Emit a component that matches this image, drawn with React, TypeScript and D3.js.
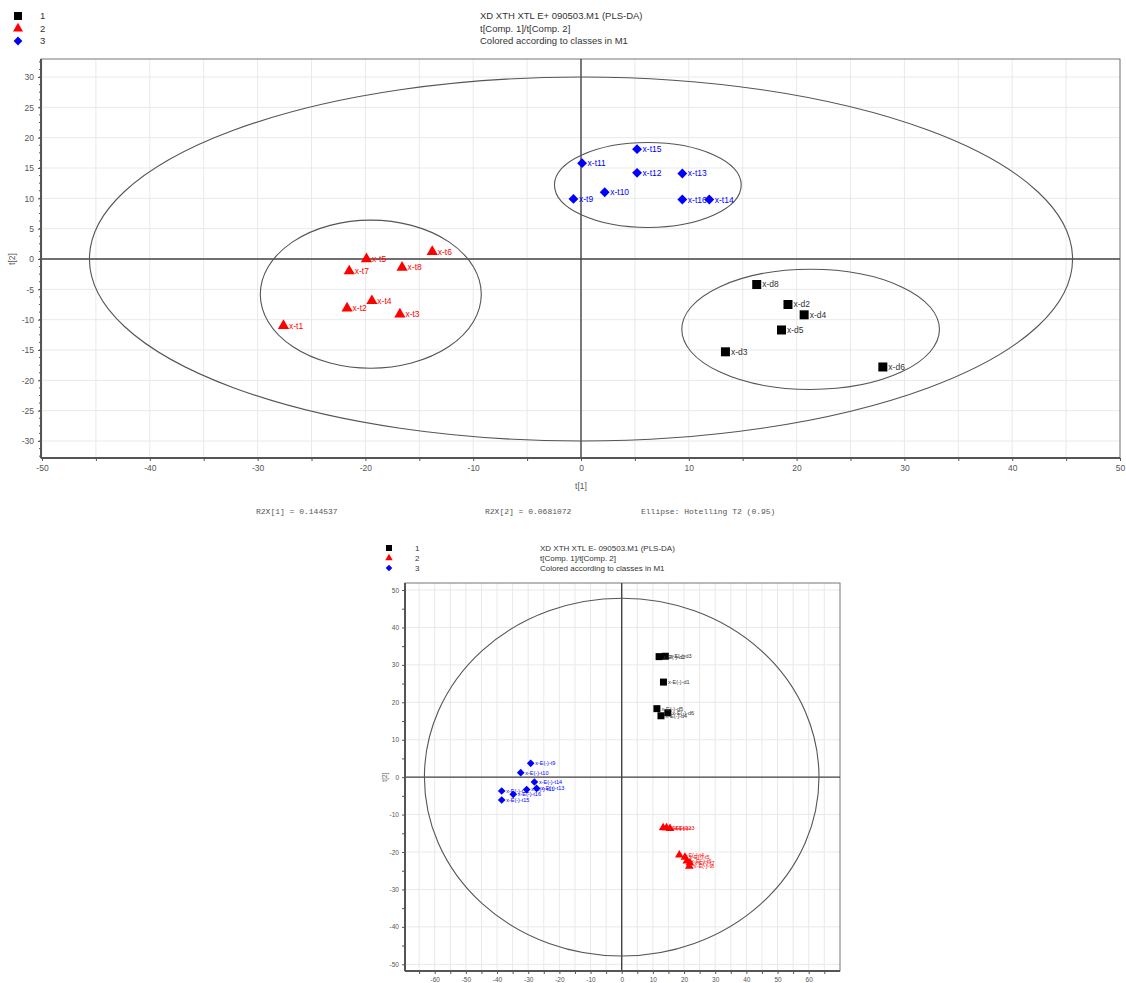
import React, { useEffect, useRef } from 'react';
import * as d3 from 'd3';

// ---- top panel: XD XTH XTL E+ (t[1] vs t[2]) ----
const topTitle = ['XD XTH XTL E+ 090503.M1 (PLS-DA)', 't[Comp. 1]/t[Comp. 2]', 'Colored according to classes in M1'];
const topClass1 = [
  { name: 'x-d8', x: 16.3, y: -4.2 },
  { name: 'x-d2', x: 19.2, y: -7.5 },
  { name: 'x-d4', x: 20.7, y: -9.2 },
  { name: 'x-d5', x: 18.6, y: -11.7 },
  { name: 'x-d3', x: 13.4, y: -15.3 },
  { name: 'x-d6', x: 28.0, y: -17.8 },
];
const topClass2 = [
  { name: 'x-t1', x: -27.6, y: -11.0 },
  { name: 'x-t2', x: -21.7, y: -8.1 },
  { name: 'x-t4', x: -19.4, y: -6.9 },
  { name: 'x-t3', x: -16.8, y: -9.1 },
  { name: 'x-t7', x: -21.5, y: -2.0 },
  { name: 'x-t5', x: -19.9, y: 0.0 },
  { name: 'x-t8', x: -16.6, y: -1.4 },
  { name: 'x-t6', x: -13.8, y: 1.2 },
];
const topClass3 = [
  { name: 'x-t15', x: 5.2, y: 18.1 },
  { name: 'x-t11', x: 0.1, y: 15.8 },
  { name: 'x-t12', x: 5.2, y: 14.2 },
  { name: 'x-t13', x: 9.4, y: 14.1 },
  { name: 'x-t10', x: 2.2, y: 11.0 },
  { name: 'x-t9', x: -0.7, y: 9.9 },
  { name: 'x-t16', x: 9.4, y: 9.8 },
  { name: 'x-t14', x: 11.9, y: 9.8 },
];
const topEllipses = [
  { cx: 0, cy: 0, rx: 45.6, ry: 30 },
  { cx: -19.5, cy: -5.8, rx: 10.25, ry: 12.2 },
  { cx: 6.2, cy: 12.2, rx: 8.66, ry: 7.0 },
  { cx: 21.3, cy: -11.6, rx: 11.95, ry: 9.9 },
];
const topXTicks = d3.range(-50, 51, 5);
const topYTicks = d3.range(-30, 31, 5);
const topYMinor = d3.range(-32.5, 33, 1.25);
const r2xText = ['R2X[1] = 0.144537', 'R2X[2] = 0.0681072', 'Ellipse: Hotelling T2 (0.95)'];

// ---- bottom panel: XD XTH XTL E- ----
const botTitle = ['XD XTH XTL E- 090503.M1 (PLS-DA)', 't[Comp. 1]/t[Comp. 2]', 'Colored according to classes in M1'];
const botClass1 = [
  { name: 'x-E(-)-d2', x: 12.0, y: 32.2 },
  { name: 'x-E(-)-d3', x: 14.0, y: 32.3 },
  { name: 'x-E(-)-d1', x: 13.4, y: 25.4 },
  { name: 'x-E(-)-d5', x: 11.3, y: 18.3 },
  { name: 'x-E(-)-d4', x: 12.6, y: 16.4 },
  { name: 'x-E(-)-d6', x: 14.8, y: 17.2 },
];
const botClass2 = [
  { name: 'x-E(-)-t1', x: 13.3, y: -13.5 },
  { name: 'x-E(-)-t2', x: 14.4, y: -13.5 },
  { name: 'x-E(-)-t3', x: 15.5, y: -13.7 },
  { name: 'x-E(-)-t4', x: 18.5, y: -20.8 },
  { name: 'x-E(-)-t5', x: 20.3, y: -21.4 },
  { name: 'x-E(-)-t6', x: 20.9, y: -22.4 },
  { name: 'x-E(-)-t7', x: 21.9, y: -22.9 },
  { name: 'x-E(-)-t8', x: 21.7, y: -23.8 },
];
const botClass3 = [
  { name: 'x-E(-)-t9', x: -29.2, y: 3.7 },
  { name: 'x-E(-)-t10', x: -32.4, y: 1.2 },
  { name: 'x-E(-)-t14', x: -28.0, y: -1.3 },
  { name: 'x-E(-)-t13', x: -27.3, y: -3.0 },
  { name: 'x-E(-)-t11', x: -30.5, y: -3.3 },
  { name: 'x-E(-)-t16', x: -34.8, y: -4.6 },
  { name: 'x-E(-)-t12', x: -38.5, y: -3.7 },
  { name: 'x-E(-)-t15', x: -38.5, y: -6.1 },
];
const botEllipses = [{ cx: 0, cy: 0, rx: 63.3, ry: 47.8 }];
const botXTicks = d3.range(-65, 66, 5);
const botYTicks = d3.range(-50, 51, 5);

const classColors = ['#000000', '#ff0000', '#0000ff'];
const classLabels = ['1', '2', '3'];
const FONT = 'Liberation Sans, Arial, sans-serif';

const markerPath = (cls, s) => {
  if (cls === 0) return d3.symbol(d3.symbolSquare, s * s)();
  if (cls === 1) return d3.symbol(d3.symbolTriangle, (s * s * Math.sqrt(3)) / 4 * 1.55)();
  return d3.symbol(d3.symbolSquare, s * s * 0.6)(); // rotated later -> diamond
};

function drawPanel(svg, cfg) {
  const { box, xDomain, xRange, yDomain, yRange } = cfg;
  const x = d3.scaleLinear().domain(xDomain).range(xRange);
  const y = d3.scaleLinear().domain(yDomain).range(yRange);
  const g = svg.append('g');

  // grid
  g.append('g').selectAll('line').data(cfg.xGrid).join('line')
    .attr('x1', d => x(d)).attr('x2', d => x(d))
    .attr('y1', box.top).attr('y2', box.bottom)
    .attr('stroke', '#e9e9e9');
  g.append('g').selectAll('line').data(cfg.yGrid).join('line')
    .attr('y1', d => y(d)).attr('y2', d => y(d))
    .attr('x1', box.left).attr('x2', box.right)
    .attr('stroke', '#e9e9e9');

  // frame
  g.append('rect')
    .attr('x', box.left).attr('y', box.top)
    .attr('width', box.right - box.left).attr('height', box.bottom - box.top)
    .attr('fill', 'none').attr('stroke', '#777').attr('stroke-width', 1);

  // zero lines
  g.append('line').attr('x1', box.left).attr('x2', box.right)
    .attr('y1', y(0)).attr('y2', y(0)).attr('stroke', '#444').attr('stroke-width', 1.4);
  g.append('line').attr('x1', x(0)).attr('x2', x(0))
    .attr('y1', box.top).attr('y2', box.bottom).attr('stroke', '#444').attr('stroke-width', 1.4);

  // axes
  const fmt = d => (Math.abs(d % cfg.xLabelStep) < 1e-9 ? String(d) : '');
  const xAxis = g.append('g')
    .attr('transform', `translate(0,${box.bottom})`)
    .call(d3.axisBottom(x).tickValues(cfg.xTicks).tickSize(3).tickPadding(cfg.tickPad).tickFormat(fmt));
  xAxis.select('.domain').attr('d', `M${box.left},0H${box.right}`).attr('stroke', '#555').attr('stroke-width', 2);
  xAxis.selectAll('line').attr('stroke', '#555');
  xAxis.selectAll('text').attr('fill', '#555').attr('font-size', cfg.tickSize).attr('font-family', FONT);

  const yfmt = d => (Math.abs(d % cfg.yLabelStep) < 1e-9 ? String(d) : '');
  const yAxis = g.append('g')
    .attr('transform', `translate(${box.left},0)`)
    .call(d3.axisLeft(y).tickValues(cfg.yTicks).tickSize(3).tickPadding(cfg.tickPad).tickFormat(yfmt));
  yAxis.select('.domain').attr('d', `M0,${box.top}V${box.bottom}`).attr('stroke', '#555').attr('stroke-width', 2);
  yAxis.selectAll('line').attr('stroke', '#555');
  yAxis.selectAll('text').attr('fill', '#555').attr('font-size', cfg.tickSize).attr('font-family', FONT);

  if (cfg.yMinor) {
    g.append('g').selectAll('line').data(cfg.yMinor).join('line')
      .attr('x1', box.left - 2).attr('x2', box.left)
      .attr('y1', d => y(d)).attr('y2', d => y(d))
      .attr('stroke', '#555');
  }

  // axis titles
  g.append('text')
    .attr('transform', `translate(${cfg.yTitlePos[0]},${y(0)}) rotate(-90)`)
    .attr('text-anchor', 'middle').attr('font-size', cfg.tickSize).attr('fill', '#555')
    .attr('font-family', FONT).text('t[2]');
  if (cfg.xTitleY) {
    g.append('text').attr('x', x(0)).attr('y', cfg.xTitleY)
      .attr('text-anchor', 'middle').attr('font-size', cfg.tickSize).attr('fill', '#555')
      .attr('font-family', FONT).text('t[1]');
  }

  // ellipses
  g.append('g').selectAll('ellipse').data(cfg.ellipses).join('ellipse')
    .attr('cx', d => x(d.cx)).attr('cy', d => y(d.cy))
    .attr('rx', d => x(d.rx) - x(0)).attr('ry', d => y(0) - y(d.ry))
    .attr('fill', 'none').attr('stroke', '#555').attr('stroke-width', 1.1);

  // points
  cfg.classes.forEach((pts, ci) => {
    const pg = g.append('g');
    pg.selectAll('path').data(pts).join('path')
      .attr('d', markerPath(ci, cfg.markerSize))
      .attr('transform', d => `translate(${x(d.x)},${y(d.y)})${ci === 2 ? ' rotate(45)' : ''}`)
      .attr('fill', classColors[ci]);
    pg.selectAll('text').data(pts).join('text')
      .attr('x', d => x(d.x) + cfg.markerSize / 2 + 1)
      .attr('y', d => y(d.y) + cfg.labelSize * 0.35)
      .attr('font-size', cfg.labelSize).attr('font-family', FONT)
      .attr('fill', ci === 0 ? '#333' : classColors[ci])
      .text(d => d.name);
  });

  // legend + title block
  const lg = svg.append('g');
  classLabels.forEach((lab, ci) => {
    const ly = cfg.legend.y + ci * cfg.legend.gap;
    lg.append('path')
      .attr('d', markerPath(ci, cfg.legend.size))
      .attr('transform', `translate(${cfg.legend.x},${ly})${ci === 2 ? ' rotate(45)' : ''}`)
      .attr('fill', classColors[ci]);
    lg.append('text').attr('x', cfg.legend.labelX).attr('y', ly + cfg.legend.font * 0.35)
      .attr('font-size', cfg.legend.font).attr('font-family', FONT).attr('fill', '#333').text(lab);
    lg.append('text').attr('x', cfg.legend.titleX).attr('y', ly + cfg.legend.font * 0.35)
      .attr('font-size', cfg.legend.font).attr('font-family', FONT).attr('fill', '#333').text(cfg.title[ci]);
  });
}

const App = () => {
  const svgRef = useRef(null);

  useEffect(() => {
    const svg = d3.select(svgRef.current);
    svg.selectAll('*').remove();

    drawPanel(svg, {
      box: { left: 41, right: 1120, top: 59, bottom: 458 },
      xDomain: [-50, 50], xRange: [42, 1120],
      yDomain: [-30, 30], yRange: [441, 77],
      xGrid: topXTicks, yGrid: d3.range(-30, 31, 5),
      xTicks: topXTicks, yTicks: topYTicks, yMinor: topYMinor,
      xLabelStep: 10, yLabelStep: 5,
      tickSize: 8.5, tickPad: 4,
      yTitlePos: [15], xTitleY: 489,
      ellipses: topEllipses,
      classes: [topClass1, topClass2, topClass3],
      markerSize: 9, labelSize: 8.5,
      title: topTitle,
      legend: { x: 18, y: 16, gap: 12.5, size: 8, labelX: 40, titleX: 480, font: 9.5 },
    });

    // summary line below top panel
    svg.append('g').selectAll('text').data(r2xText).join('text')
      .attr('x', (d, i) => [256, 485, 641][i]).attr('y', 514)
      .attr('font-family', 'Liberation Mono, Courier New, monospace')
      .attr('font-size', 8).attr('fill', '#555')
      .text(d => d);

    drawPanel(svg, {
      box: { left: 405, right: 840, top: 583, bottom: 971 },
      xDomain: [-60, 60], xRange: [434.7, 808.7],
      yDomain: [-50, 50], yRange: [964.3, 590],
      xGrid: botXTicks, yGrid: d3.range(-50, 51, 10),
      xTicks: botXTicks, yTicks: botYTicks,
      xLabelStep: 10, yLabelStep: 10,
      tickSize: 6.5, tickPad: 3,
      yTitlePos: [387], xTitleY: null,
      ellipses: botEllipses,
      classes: [botClass1, botClass2, botClass3],
      markerSize: 7, labelSize: 5.5,
      title: botTitle,
      legend: { x: 389, y: 548, gap: 10, size: 6, labelX: 415, titleX: 540, font: 8 },
    });
  }, []);

  return (
    <svg ref={svgRef} width={1126} height={983}
      style={{ position: 'absolute', left: 0, top: 0, background: '#fff' }} />
  );
};

export default App;
